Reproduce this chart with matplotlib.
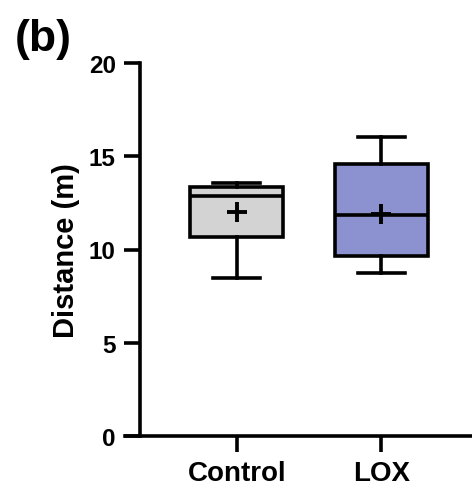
import matplotlib
matplotlib.use("Agg")
import matplotlib.pyplot as plt

plt.rcParams['font.family'] = ['Liberation Sans', 'DejaVu Sans']
plt.rcParams['font.weight'] = 'bold'

categories = ["Control", "LOX"]
whislo = [8.47, 8.74]
q1 = [10.65, 9.65]
med = [12.89, 11.87]
q3 = [13.37, 14.58]
whishi = [13.55, 16.05]
means = [12.0, 11.9]
colors = ["#D3D3D3", "#8B92CF"]
yticks = [0, 5, 10, 15, 20]

W, H = 472, 489
fig = plt.figure(figsize=(W / 100, H / 100), dpi=100)
ax = fig.add_axes([125 / W, (H - 437) / H, (472 - 125) / W, (437 - 64) / H])

lw = 2.6
ax.spines['top'].set_visible(False)
ax.spines['right'].set_visible(False)
ax.spines['left'].set_position(('data', -0.67))
for s in ['left', 'bottom']:
    ax.spines[s].set_linewidth(lw)

stats = []
for i, c in enumerate(categories):
    stats.append(dict(label=c, whislo=whislo[i], q1=q1[i], med=med[i], q3=q3[i],
                      whishi=whishi[i], mean=means[i], fliers=[]))

bp = ax.bxp(stats, positions=[0, 1], widths=0.645, patch_artist=True, showmeans=True,
            meanline=False, showfliers=False,
            boxprops=dict(linewidth=lw, edgecolor='black'),
            medianprops=dict(color='black', linewidth=lw),
            whiskerprops=dict(color='black', linewidth=lw),
            capprops=dict(color='black', linewidth=lw),
            meanprops=dict(marker='+', markersize=14, markeredgewidth=2.8,
                           markeredgecolor='black'),
            capwidths=0.325)
for patch, col in zip(bp['boxes'], colors):
    patch.set_facecolor(col)

ax.set_xlim(-0.774, 1.627)
ax.set_ylim(0, 20)
ax.set_yticks(yticks)
ax.set_yticklabels([str(t) for t in yticks], fontsize=17.5, fontweight='bold')
ax.set_xticks([0, 1])
ax.set_xticklabels(categories, fontsize=20, fontweight='bold')

ax.tick_params(axis='both', direction='out', length=11.5, width=lw)
ax.tick_params(axis='y', pad=6)
ax.tick_params(axis='x', pad=6)

fig.text(66 / W, 1 - 251 / H, "Distance (m)", fontsize=21, fontweight='bold',
         rotation=90, ha='center', va='center')
fig.text(43 / W, 1 - 40 / H, "(b)", fontsize=32, fontweight='bold', ha='center', va='center')

fig.savefig("out.png", dpi=100)
